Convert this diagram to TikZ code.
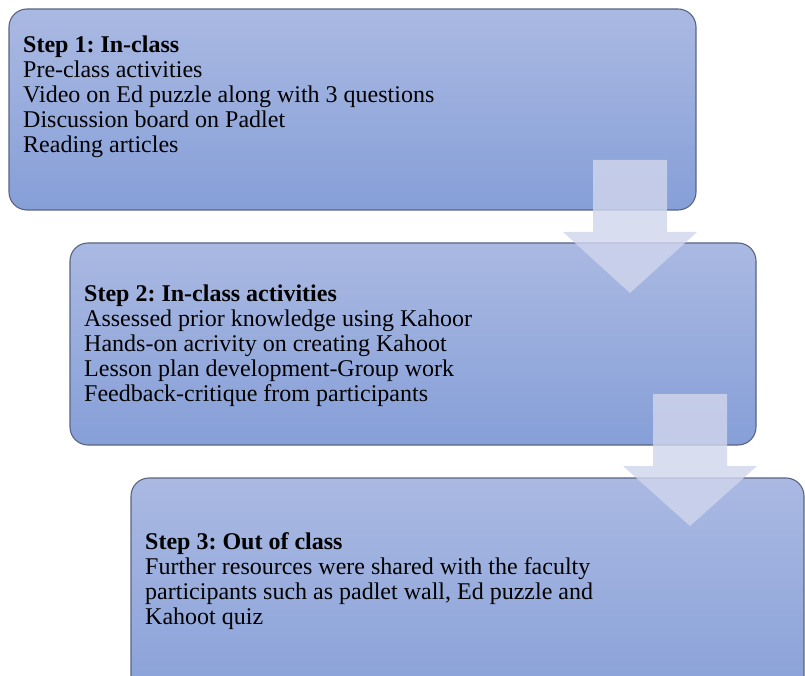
\documentclass[tikz,border=0pt]{standalone}
\usepackage{fontspec}
\setmainfont{Liberation Serif}
\frenchspacing
\definecolor{boxtop}{RGB}{170,185,226}
\definecolor{boxbot}{RGB}{134,159,216}
\definecolor{boxline}{RGB}{88,100,128}
\definecolor{arrowfill}{RGB}{208,213,236}
\tikzset{
  stepbox/.style={top color=boxtop, bottom color=boxbot, draw=boxline, line width=1.1pt, rounded corners=18pt},
  steptext/.style={anchor=north west, inner sep=0pt, align=left, font=\fontsize{24pt}{25pt}\selectfont, text=black},
  downarrow/.style={fill=arrowfill, fill opacity=0.82, draw=none}
}
\begin{document}
\begin{tikzpicture}[x=1pt,y=-1pt]
\useasboundingbox (0,0) rectangle (805,676);
\clip (0,0) rectangle (805,676);
% boxes
\shade[stepbox] (9,9) rectangle (696,210);
\shade[stepbox] (70,243) rectangle (756,445);
\shade[stepbox] (131,478) rectangle (804,720);
% texts
\node[steptext] (t1) at (23,35.5) {\textbf{Step 1: In-class}\\Pre-class activities\\Video on Ed puzzle along with 3 questions\\Discussion board on Padlet\\Reading articles};
\node[steptext] (t2) at (84,285) {\textbf{Step 2: In-class activities}\\Assessed prior knowledge using Kahoor\\Hands-on acrivity on creating Kahoot\\Lesson plan development-Group work\\Feedback-critique from participants};
\node[steptext] (t3) at (145,532.5) {\textbf{Step 3: Out of class}\\Further resources were shared with the faculty\\participants such as padlet wall, Ed puzzle and\\Kahoot quiz};
% arrows
\fill[downarrow] (593,160) -- (667,160) -- (667,232) -- (697,232) -- (630,293) -- (563,232) -- (593,232) -- cycle;
\fill[downarrow] (653,394) -- (727,394) -- (727,466) -- (757,466) -- (690,526) -- (623,466) -- (653,466) -- cycle;
\end{tikzpicture}
\end{document}
